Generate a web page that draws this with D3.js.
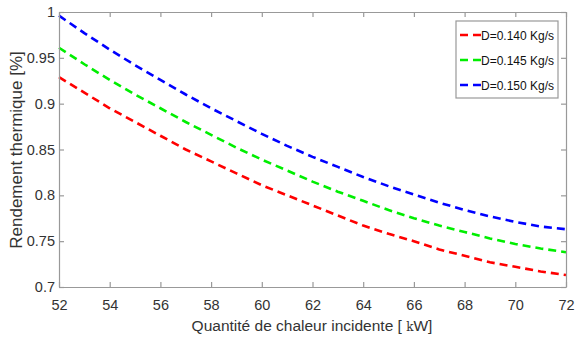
<!DOCTYPE html>
<html><head><meta charset="utf-8">
<script src="https://cdn.jsdelivr.net/npm/d3@7"></script>
<style>body{margin:0;background:#fff}svg{display:block}text{font-family:"Liberation Sans",Arial,sans-serif}</style>
</head><body><svg id="c" width="579" height="338"></svg>
<script>
const xs = [52,53,54,55,56,57,58,59,60,61,62,63,64,65,66,67,68,69,70,71,72];
const d140 = [0.929,0.912,0.895,0.880,0.865,0.850,0.837,0.824,0.811,0.800,0.789,0.778,0.767,0.758,0.750,0.741,0.734,0.727,0.722,0.717,0.713];
const d145 = [0.961,0.943,0.926,0.910,0.895,0.880,0.866,0.852,0.839,0.827,0.815,0.804,0.794,0.784,0.775,0.767,0.760,0.753,0.747,0.742,0.738];
const d150 = [0.996,0.977,0.959,0.942,0.926,0.910,0.895,0.881,0.867,0.854,0.842,0.831,0.820,0.810,0.801,0.792,0.784,0.777,0.771,0.766,0.763];
const seriesNames = ["D=0.140 Kg/s","D=0.145 Kg/s","D=0.150 Kg/s"];
const seriesColors = ["#ff0000","#00ee00","#0000ff"];
const xTicks = [52,54,56,58,60,62,64,66,68,70,72];
const yTicks = [0.7,0.75,0.8,0.85,0.9,0.95,1];
const yTickLabels = ["0.7","0.75","0.8","0.85","0.9","0.95","1"];
const xLabel = "Quantité de chaleur incidente [ ";
const yLabel = "Rendement thermique [%]";

const svg = d3.select("#c");
const L=59, R=566, T=12, B=287;
const x = d3.scaleLinear().domain([52,72]).range([L,R]);
const y = d3.scaleLinear().domain([0.7,1]).range([B,T]);
const axisCol = "#999";
const txtCol = "#333";

const all = [d140,d145,d150];
const line = d3.line().x((d,i)=>x(xs[i])).y(d=>y(d));
all.forEach((s,k)=>{
  svg.append("path").attr("d",line(s)).attr("fill","none")
    .attr("stroke",seriesColors[k]).attr("stroke-width",2.6).attr("stroke-dasharray","8,5");
});

const gB = svg.append("g").attr("transform",`translate(0,${B})`).call(d3.axisBottom(x).tickValues(xTicks).tickSizeInner(-5).tickSizeOuter(0).tickPadding(13));
const gT = svg.append("g").attr("transform",`translate(0,${T})`).call(d3.axisTop(x).tickValues(xTicks).tickSizeInner(-5).tickSizeOuter(0).tickFormat(""));
const gL = svg.append("g").attr("transform",`translate(${L},0)`).call(d3.axisLeft(y).tickValues(yTicks).tickSizeInner(-5).tickSizeOuter(0).tickPadding(4).tickFormat((d,i)=>yTickLabels[i]));
const gR = svg.append("g").attr("transform",`translate(${R},0)`).call(d3.axisRight(y).tickValues(yTicks).tickSizeInner(-5).tickSizeOuter(0).tickFormat(""));
[gB,gT,gL,gR].forEach(g=>{
  g.selectAll("path.domain").attr("stroke",axisCol).attr("stroke-width",1.2);
  g.selectAll(".tick line").attr("stroke",axisCol).attr("stroke-width",1.2);
  g.selectAll("text").attr("fill",txtCol).style("font-size","14.5px").style("font-family","'Liberation Sans',Arial,sans-serif");
});

const lg = svg.append("g");
lg.append("rect").attr("x",456).attr("y",21).attr("width",102).attr("height",77).attr("fill","#fff").attr("stroke",axisCol).attr("stroke-width",1.2);
seriesNames.forEach((n,k)=>{
  const yy = 35 + k*25;
  lg.append("line").attr("x1",460).attr("x2",481).attr("y1",yy).attr("y2",yy).attr("stroke",seriesColors[k]).attr("stroke-width",2.6).attr("stroke-dasharray","8,5");
  lg.append("text").attr("x",481).attr("y",yy+4.5).attr("fill","#111").style("font-size","12px").text(n);
});

const xl = svg.append("text").attr("x",312).attr("y",331).attr("text-anchor","middle").attr("fill",txtCol).style("font-size","15.5px");
xl.append("tspan").text(xLabel);
xl.append("tspan").style("font-family","'DejaVu Serif',serif").style("font-size","12px").text("k");
xl.append("tspan").text("W]");
svg.append("text").attr("transform","translate(22,150) rotate(-90)").attr("text-anchor","middle").attr("fill",txtCol).style("font-size","17px").text(yLabel);
</script></body></html>
